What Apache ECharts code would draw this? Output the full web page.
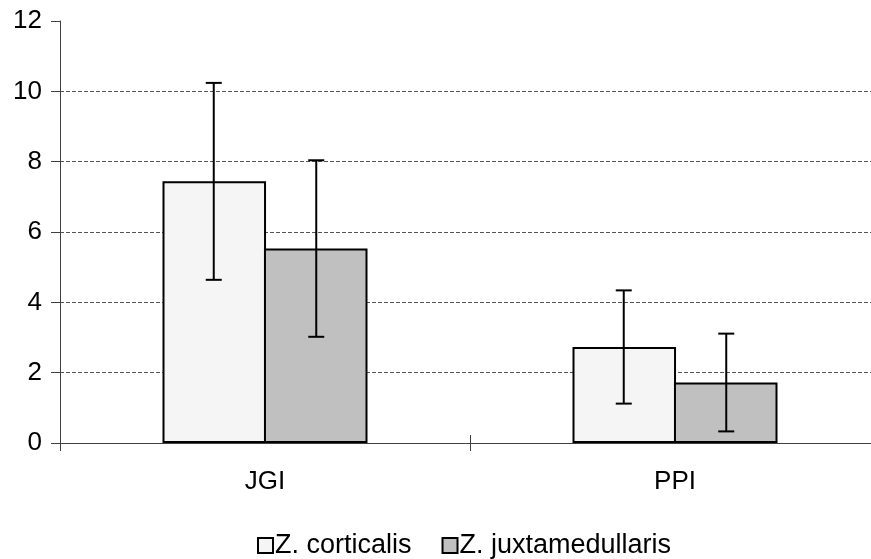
<!DOCTYPE html>
<html>
<head>
<meta charset="utf-8">
<script src="https://cdn.jsdelivr.net/npm/echarts@6/dist/echarts.min.js"></script>
<style>
  html, body { margin: 0; padding: 0; background: #fff; }
  #chart { width: 871px; height: 559px; }
</style>
</head>
<body>
<div id="chart"></div>
<script>
// values
const categories = ['JGI', 'PPI'];
const seriesNames = ['Z. corticalis', 'Z. juxtamedullaris'];
const corticalisMean = [7.44, 2.73];
const corticalisErr = [2.8, 1.61];
const juxtaMean = [5.53, 1.72];
const juxtaErr = [2.51, 1.39];

const font = "'Liberation Sans', Arial, sans-serif";
const axisColor = '#404040';

const chart = echarts.init(document.getElementById('chart'));

// [categoryIndex, low, high]
function errData(mean, err) {
  return mean.map((m, i) => [i, m - err[i], m + err[i]]);
}

// side = -1 for left bar, +1 for right bar
function errRender(side) {
  return function (params, api) {
    const cat = api.value(0);
    const low = api.coord([cat, api.value(1)]);
    const high = api.coord([cat, api.value(2)]);
    const barW = api.size([1, 0])[0] * 0.25;
    const x = low[0] + side * barW / 2;
    const cap = 8;
    const style = { stroke: '#000', lineWidth: 2 };
    return {
      type: 'group',
      children: [
        { type: 'line', shape: { x1: x, y1: high[1], x2: x, y2: low[1] }, style: style },
        { type: 'line', shape: { x1: x - cap, y1: high[1], x2: x + cap, y2: high[1] }, style: style },
        { type: 'line', shape: { x1: x - cap, y1: low[1], x2: x + cap, y2: low[1] }, style: style }
      ]
    };
  };
}

const option = {
  animation: false,
  textStyle: { fontFamily: font },
  grid: { left: 60, top: 21, width: 820, height: 422, outerBoundsMode: 'none' },
  legend: {
    data: seriesNames,
    left: 252,
    top: 527,
    icon: 'rect',
    itemWidth: 15,
    itemHeight: 15,
    itemGap: 30,
    textStyle: { fontSize: 27, color: '#000', fontFamily: font, padding: [0, 0, 0, -3] }
  },
  xAxis: [
    {
      type: 'category',
      data: categories,
      axisLine: { lineStyle: { color: axisColor, width: 1 } },
      axisTick: { show: true, length: 8, lineStyle: { color: axisColor } },
      axisLabel: { fontSize: 26, color: '#000', margin: 26, fontFamily: font },
      splitLine: { show: false }
    },
    {
      // ticks that also cross upwards
      type: 'category',
      position: 'bottom',
      data: categories,
      axisLine: { show: false },
      axisTick: { show: true, inside: true, length: 8, lineStyle: { color: axisColor } },
      axisLabel: { show: false },
      splitLine: { show: false }
    }
  ],
  yAxis: {
    type: 'value',
    min: 0,
    max: 12,
    interval: 2,
    axisLine: { show: true, lineStyle: { color: axisColor, width: 1 } },
    axisTick: { show: true, length: 9, lineStyle: { color: axisColor } },
    axisLabel: { fontSize: 26, color: '#000', margin: 18, fontFamily: font },
    splitLine: {
      show: true,
      showMinLine: false,
      showMaxLine: false,
      lineStyle: { color: '#555', type: [4, 2], width: 1 }
    }
  },
  series: [
    {
      name: seriesNames[0],
      type: 'bar',
      data: corticalisMean,
      barGap: '-2%',
      barCategoryGap: '50%',
      itemStyle: { color: '#f5f5f5', borderColor: '#000', borderWidth: 2 }
    },
    {
      name: seriesNames[1],
      type: 'bar',
      data: juxtaMean,
      barGap: '-2%',
      barCategoryGap: '50%',
      itemStyle: { color: '#c0c0c0', borderColor: '#000', borderWidth: 2 }
    },
    {
      type: 'custom',
      renderItem: errRender(-1),
      data: errData(corticalisMean, corticalisErr),
      encode: { x: 0, y: [1, 2] },
      z: 10
    },
    {
      type: 'custom',
      renderItem: errRender(1),
      data: errData(juxtaMean, juxtaErr),
      encode: { x: 0, y: [1, 2] },
      z: 10
    }
  ]
};

chart.setOption(option);
</script>
</body>
</html>
